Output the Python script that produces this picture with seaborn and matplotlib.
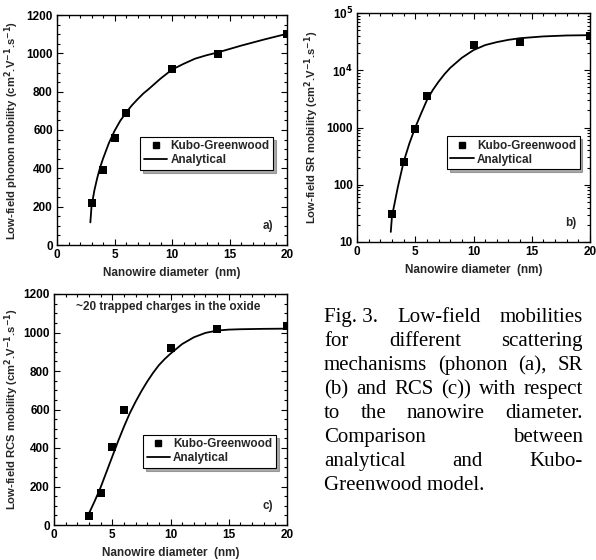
import numpy as np
import pandas as pd
import matplotlib
matplotlib.use("Agg")
import matplotlib.pyplot as plt
import matplotlib.ticker as mticker
from matplotlib.lines import Line2D
import seaborn as sns

# ---------------- data ----------------
kg_diam = [3, 4, 5, 6, 10, 14, 20]

phonon_kg = [221, 390, 560, 690, 917, 997, 1100]
phonon_fit_x = [2.9, 3.0, 3.25, 3.5, 3.75, 4.0, 4.5, 5.0, 5.5, 6.0, 6.5, 7.0, 7.5, 8.0,
                9.0, 10.0, 11.0, 12.0, 13.0, 14.0, 16.0, 18.0, 20.0]
phonon_fit_y = [118, 200, 285, 350, 405, 450, 530, 595, 648, 690, 728, 760, 790, 815,
                868, 915, 945, 972, 990, 1005, 1040, 1072, 1102]

sr_kg = [31, 245, 955, 3600, 28000, 31000, 40000]
sr_fit_x = [2.9, 3.0, 3.25, 3.5, 3.75, 4.0, 4.5, 5.0, 5.5, 6.0, 6.5, 7.0, 7.5, 8.0,
            9.0, 10.0, 11.0, 12.0, 13.0, 14.0, 16.0, 18.0, 20.0]
sr_fit_y = [15, 28, 50, 90, 150, 250, 530, 1000, 1750, 3000, 4500, 6300, 8500, 11000,
            16500, 22500, 27500, 31000, 34000, 36300, 39000, 40500, 41000]

rcs_kg = [48, 164, 405, 600, 922, 1020, 1033]
rcs_fit_x = [3.0, 3.5, 4.0, 4.5, 5.0, 5.5, 6.0, 6.5, 7.0, 7.5, 8.0, 8.5, 9.0, 9.5,
             10.0, 11.0, 12.0, 13.0, 14.0, 15.0, 16.0, 18.0, 20.0]
rcs_fit_y = [60, 125, 195, 275, 355, 435, 510, 580, 640, 695, 745, 790, 830, 862,
             890, 940, 975, 998, 1010, 1015, 1017, 1019, 1020]

ylabels = ["Low-field phonon mobility (cm$^{\\mathbf{2}}$.V$^{\\mathbf{-1}}$.s$^{\\mathbf{-1}}$)",
           "Low-field SR mobility (cm$^{\\mathbf{2}}$.V$^{\\mathbf{-1}}$.s$^{\\mathbf{-1}}$)",
           "Low-field RCS mobility (cm$^{\\mathbf{2}}$.V$^{\\mathbf{-1}}$.s$^{\\mathbf{-1}}$)"]
panel_tags = ["a)", "b)", "c)"]
xlabel = "Nanowire diameter  (nm)"
note_c = "~20 trapped charges in the oxide"
caption_lines = ["Fig.\u00a03.  Low-field  mobilities",
                 "for  different  scattering",
                 "mechanisms (phonon (a), SR",
                 "(b) and RCS (c)) with respect",
                 "to  the  nanowire  diameter.",
                 "Comparison  between",
                 "analytical  and  Kubo-",
                 "Greenwood model."]

# ---------------- style ----------------
sns.set_theme(style="ticks")
plt.rcParams["font.family"] = ["Liberation Sans", "DejaVu Sans"]
plt.rcParams["font.weight"] = "bold"
plt.rcParams["mathtext.default"] = "bf"
FS = 8.5
FSY = 8.1

W, H = 596, 560
fig = plt.figure(figsize=(W / 100, H / 100), dpi=100)
fig.patch.set_facecolor("white")


def px_axes(l, t, r, b):
    return fig.add_axes([l / W, 1 - b / H, (r - l) / W, (b - t) / H])


axA = px_axes(57, 15, 287, 245)
axB = px_axes(357, 13, 590, 242)
axC = px_axes(54, 294, 287, 525)

sets = [
    (axA, phonon_kg, phonon_fit_x, phonon_fit_y, (0.362, 0.47), 3.5),
    (axB, sr_kg, sr_fit_x, sr_fit_y, (0.386, 0.462), 3.5),
    (axC, rcs_kg, rcs_fit_x, rcs_fit_y, (0.382, 0.39), 1.5),
]

for i, (ax, kg, fx, fy, legpos, ypad) in enumerate(sets):
    ax.set_facecolor("white")
    dfp = pd.DataFrame({"d": kg_diam, "mu": kg})
    dfl = pd.DataFrame({"d": fx, "mu": fy})
    sns.lineplot(data=dfl, x="d", y="mu", ax=ax, color="black", lw=1.3,
                 sort=False, estimator=None, legend=False)
    sns.scatterplot(data=dfp, x="d", y="mu", ax=ax, marker="s", s=32,
                    color="black", edgecolor="black", linewidth=0, legend=False, zorder=3)
    ax.set_xlim(0, 20)
    ax.xaxis.set_major_locator(mticker.MultipleLocator(5))
    ax.xaxis.set_minor_locator(mticker.MultipleLocator(1))
    if i == 1:
        ax.set_yscale("log")
        ax.set_ylim(10, 1e5)
        ax.yaxis.set_major_locator(mticker.FixedLocator([10, 100, 1000, 1e4, 1e5]))
        ax.yaxis.set_major_formatter(mticker.FixedFormatter(
            ["10", "100", "1000", "10$^{\\mathbf{4}}$", "10$^{\\mathbf{5}}$"]))
        ax.yaxis.set_minor_locator(mticker.LogLocator(base=10, subs=np.arange(2, 10)))
        ax.yaxis.set_minor_formatter(mticker.NullFormatter())
    else:
        ax.set_ylim(0, 1200)
        ax.yaxis.set_major_locator(mticker.MultipleLocator(200))
        ax.yaxis.set_minor_locator(mticker.MultipleLocator(50))
    ax.tick_params(which="both", direction="in", top=True, right=True,
                   labelsize=FS, width=0.8, colors="black")
    ax.tick_params(which="major", length=4, pad=3)
    ax.tick_params(which="minor", length=2)
    for lab in ax.get_xticklabels() + ax.get_yticklabels():
        lab.set_fontweight("bold")
    for sp in ax.spines.values():
        sp.set_visible(True)
        sp.set_linewidth(1.0)
        sp.set_color("black")
    ax.set_xlabel(xlabel, fontsize=FS, fontweight="bold", labelpad=4)
    ax.set_ylabel(ylabels[i], fontsize=FSY, fontweight="bold", labelpad=ypad)
    ax.text(0.918, 0.083, panel_tags[i], transform=ax.transAxes, fontsize=FS,
            fontweight="bold", ha="center", va="center")

    handles = [Line2D([], [], ls="none", marker="s", ms=5, color="black"),
               Line2D([], [], color="black", lw=1.3)]
    leg = ax.legend(handles, ["Kubo-Greenwood", "Analytical"], loc="upper left",
                    bbox_to_anchor=legpos, borderaxespad=0, frameon=True,
                    fancybox=False, shadow={"color": "0.35", "ox": 2, "oy": -2},
                    handlelength=2.0, handletextpad=0.25, borderpad=0.3,
                    labelspacing=0.15, prop={"weight": "bold", "size": FS})
    leg.get_frame().set_edgecolor("black")
    leg.get_frame().set_linewidth(0.8)

axC.text(0.49, 0.944, note_c, transform=axC.transAxes, fontsize=FS,
         fontweight="bold", ha="center", va="center")

# ---------------- caption (justified) ----------------
renderer = fig.canvas.get_renderer()
L, R = 324, 583
cap_font = dict(family=["Liberation Serif", "DejaVu Serif"], fontsize=15,
                fontweight="normal", color="black")
for k, line in enumerate(caption_lines):
    ybase = 1 - (322 + 24.0 * k) / H
    words = [w for w in line.split(" ") if w]
    if k == len(caption_lines) - 1 or len(words) == 1:
        fig.text(L / W, ybase, line, ha="left", va="baseline", **cap_font)
        continue
    txts = [fig.text(0, ybase, w, ha="left", va="baseline", **cap_font) for w in words]
    widths = [t.get_window_extent(renderer).width for t in txts]
    gap = (R - L - sum(widths)) / (len(words) - 1)
    x = L
    for t, wd in zip(txts, widths):
        t.set_x(x / W)
        x += wd + gap

fig.savefig("out.png", dpi=100, facecolor="white")
